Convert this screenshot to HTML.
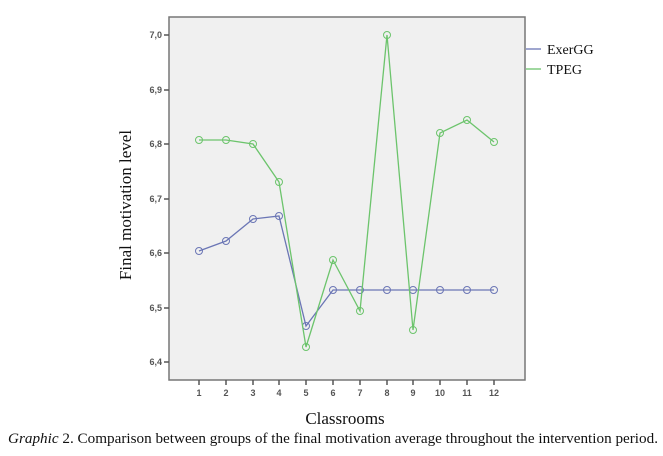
<!DOCTYPE html>
<html><head><style>body{margin:0;background:#fff}</style></head><body>
<svg width="663" height="451" xmlns="http://www.w3.org/2000/svg" font-family="Liberation Sans, sans-serif">
<rect x="169" y="17" width="356" height="363" fill="#f0f0f0" stroke="#777" stroke-width="1.5"/>
<g font-size="9" fill="#555" text-anchor="end" font-weight="bold">
<g stroke="#555" stroke-width="1.5">
<line x1="164" y1="35" x2="169" y2="35"/><line x1="164" y1="90" x2="169" y2="90"/><line x1="164" y1="144" x2="169" y2="144"/><line x1="164" y1="199" x2="169" y2="199"/><line x1="164" y1="253" x2="169" y2="253"/><line x1="164" y1="308" x2="169" y2="308"/><line x1="164" y1="362" x2="169" y2="362"/>
</g>
<text x="162" y="38">7,0</text><text x="162" y="93">6,9</text><text x="162" y="147">6,8</text><text x="162" y="202">6,7</text><text x="162" y="256">6,6</text><text x="162" y="311">6,5</text><text x="162" y="365">6,4</text>
</g>
<g stroke="#555" stroke-width="1.5">
<line x1="199" y1="380" x2="199" y2="385"/><line x1="226" y1="380" x2="226" y2="385"/><line x1="253" y1="380" x2="253" y2="385"/><line x1="279" y1="380" x2="279" y2="385"/><line x1="306" y1="380" x2="306" y2="385"/><line x1="333" y1="380" x2="333" y2="385"/><line x1="360" y1="380" x2="360" y2="385"/><line x1="387" y1="380" x2="387" y2="385"/><line x1="413" y1="380" x2="413" y2="385"/><line x1="440" y1="380" x2="440" y2="385"/><line x1="467" y1="380" x2="467" y2="385"/><line x1="494" y1="380" x2="494" y2="385"/>
</g>
<g font-size="9" fill="#555" text-anchor="middle" font-weight="bold">
<text x="199" y="396">1</text><text x="226" y="396">2</text><text x="253" y="396">3</text><text x="279" y="396">4</text><text x="306" y="396">5</text><text x="333" y="396">6</text><text x="360" y="396">7</text><text x="387" y="396">8</text><text x="413" y="396">9</text><text x="440" y="396">10</text><text x="467" y="396">11</text><text x="494" y="396">12</text>
</g>
<g fill="none" stroke="#6b76b5" stroke-width="1.3">
<polyline points="199,251 226,241 253,219 279,216 306,326 333,290 360,290 387,290 413,290 440,290 467,290 494,290"/>
<g stroke-width="1"><circle cx="199" cy="251" r="3.5"/><circle cx="226" cy="241" r="3.5"/><circle cx="253" cy="219" r="3.5"/><circle cx="279" cy="216" r="3.5"/><circle cx="306" cy="326" r="3.5"/><circle cx="333" cy="290" r="3.5"/><circle cx="360" cy="290" r="3.5"/><circle cx="387" cy="290" r="3.5"/><circle cx="413" cy="290" r="3.5"/><circle cx="440" cy="290" r="3.5"/><circle cx="467" cy="290" r="3.5"/><circle cx="494" cy="290" r="3.5"/></g>
</g>
<g fill="none" stroke="#6cc46c" stroke-width="1.3">
<polyline points="199,140 226,140 253,144 279,182 306,347 333,260 360,311 387,35 413,330 440,133 467,120 494,142"/>
<g stroke-width="1"><circle cx="199" cy="140" r="3.5"/><circle cx="226" cy="140" r="3.5"/><circle cx="253" cy="144" r="3.5"/><circle cx="279" cy="182" r="3.5"/><circle cx="306" cy="347" r="3.5"/><circle cx="333" cy="260" r="3.5"/><circle cx="360" cy="311" r="3.5"/><circle cx="387" cy="35" r="3.5"/><circle cx="413" cy="330" r="3.5"/><circle cx="440" cy="133" r="3.5"/><circle cx="467" cy="120" r="3.5"/><circle cx="494" cy="142" r="3.5"/></g>
</g>
<line x1="526" y1="49" x2="541" y2="49" stroke="#6b76b5" stroke-width="1.3"/>
<line x1="526" y1="69" x2="541" y2="69" stroke="#6cc46c" stroke-width="1.3"/>
<g font-family="Liberation Serif, serif" fill="#111">
<text x="547" y="54" font-size="14">ExerGG</text>
<text x="547" y="74" font-size="14">TPEG</text>
<text x="131" y="205" font-size="17" text-anchor="middle" transform="rotate(-90 131 205)">Final motivation level</text>
<text x="345" y="424" font-size="17" text-anchor="middle">Classrooms</text>
<text x="8" y="443" font-size="14.5" textLength="650" lengthAdjust="spacingAndGlyphs"><tspan font-style="italic">Graphic</tspan> 2. Comparison between groups of the final motivation average throughout the intervention period.</text>
</g>
</svg>
</body></html>
